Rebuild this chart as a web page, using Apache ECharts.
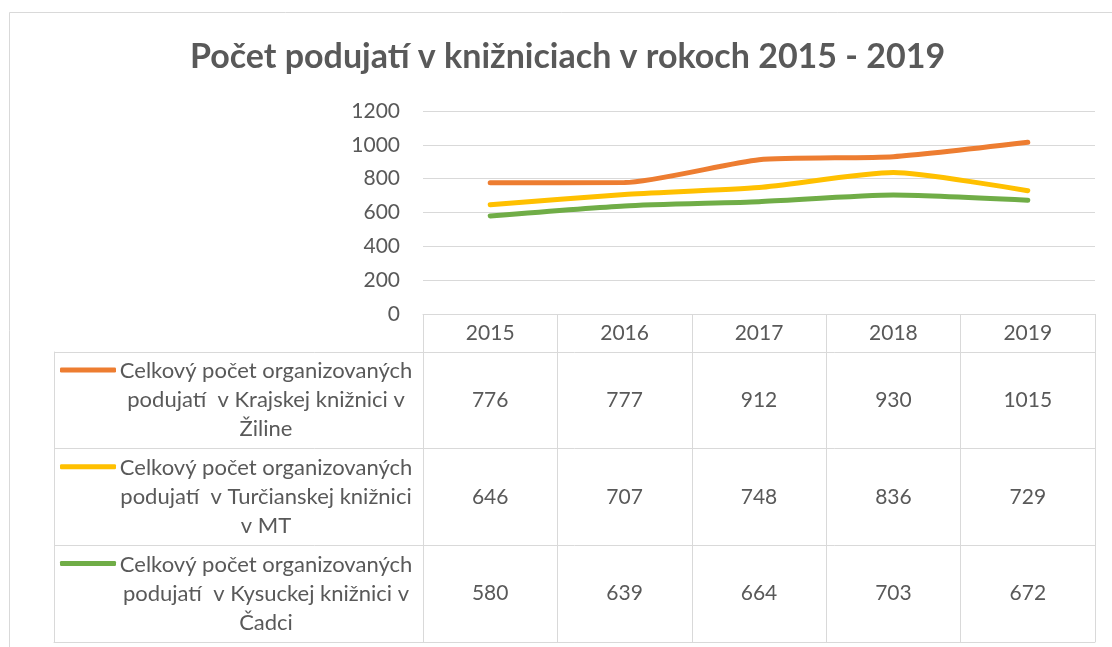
<!DOCTYPE html>
<html>
<head>
<meta charset="utf-8">
<script src="https://cdn.jsdelivr.net/npm/echarts@6/dist/echarts.min.js"></script>
<style>
  html, body { margin: 0; padding: 0; background: #fff; }
  #chart { width: 1112px; height: 647px; }
</style>
</head>
<body>
<div id="chart"></div>
<script>
  // data
  var years = ['2015', '2016', '2017', '2018', '2019'];
  var seriesNames = [
    'Celkový počet organizovaných podujatí  v Krajskej knižnici v Žiline',
    'Celkový počet organizovaných podujatí  v Turčianskej knižnici v MT',
    'Celkový počet organizovaných podujatí  v Kysuckej knižnici v Čadci'
  ];
  var rowLabels = [
    'Celkový počet organizovaných\npodujatí  v Krajskej knižnici v\nŽiline',
    'Celkový počet organizovaných\npodujatí  v Turčianskej knižnici\nv MT',
    'Celkový počet organizovaných\npodujatí  v Kysuckej knižnici v\nČadci'
  ];
  var zilina = [776, 777, 912, 930, 1015];
  var turiec = [646, 707, 748, 836, 729];
  var kysuce = [580, 639, 664, 703, 672];
  var yTicks = {min: 0, max: 1200, interval: 200};

  var colors = ['#ED7D31', '#FFC000', '#70AD47'];
  var gray = '#595959';
  var lineGray = '#d9d9d9';
  var font = 'Lato';

  var allValues = [zilina, turiec, kysuce];
  var cells = [];
  allValues.forEach(function (arr, r) {
    arr.forEach(function (v, i) {
      cells.push([years[i], rowLabels[r], v]);
    });
  });

  var myChart = echarts.init(document.getElementById('chart'));

  var lineSeries = allValues.map(function (arr, k) {
    return {
      name: seriesNames[k],
      type: 'line',
      xAxisIndex: 0,
      yAxisIndex: 0,
      data: arr,
      smooth: 0.2,
      symbol: 'none',
      lineStyle: {width: 5, color: colors[k], cap: 'round'},
      itemStyle: {color: colors[k]},
      z: 5 - k
    };
  });

  var option = {
    backgroundColor: '#fff',
    animation: false,
    title: {
      text: 'Počet podujatí v knižniciach v rokoch 2015 - 2019',
      left: 190,
      top: 40,
      padding: 0,
      textStyle: {fontFamily: font, fontSize: 34, fontWeight: 'bold', color: gray}
    },
    legend: {
      data: seriesNames,
      orient: 'vertical',
      left: 60,
      top: 367.5,
      padding: 0,
      itemWidth: 56,
      itemHeight: 5,
      itemGap: 91.7,
      icon: 'roundRect',
      selectedMode: false,
      formatter: function () { return ''; },
      textStyle: {fontSize: 1, lineHeight: 5}
    },
    graphic: [{
      type: 'rect',
      shape: {x: 9.5, y: 12.5, width: 1200, height: 1000},
      style: {fill: null, stroke: lineGray, lineWidth: 1},
      silent: true
    }],
    grid: [
      {left: 423, right: 17, top: 111, height: 203},
      {left: 54, right: 17, top: 352, height: 290},
      {left: 423, right: 17, top: 352, height: 290}
    ],
    xAxis: [
      {
        gridIndex: 0,
        type: 'category',
        data: years,
        boundaryGap: true,
        axisLine: {show: true, lineStyle: {color: lineGray, width: 1}},
        axisTick: {show: true, length: 38, lineStyle: {color: lineGray, width: 1}},
        axisLabel: {color: gray, fontFamily: font, fontSize: 21, margin: 9}
      },
      {
        gridIndex: 1,
        type: 'value',
        min: 0,
        max: 1,
        axisLine: {show: true, onZero: false, lineStyle: {color: lineGray}},
        axisTick: {show: false},
        axisLabel: {show: false},
        splitLine: {show: false}
      },
      {
        gridIndex: 2,
        type: 'category',
        data: years,
        boundaryGap: true,
        axisLine: {show: false},
        axisTick: {show: false},
        axisLabel: {show: false},
        splitLine: {show: true, lineStyle: {color: lineGray, width: 1}}
      }
    ],
    yAxis: [
      {
        gridIndex: 0,
        type: 'value',
        min: yTicks.min,
        max: yTicks.max,
        interval: yTicks.interval,
        axisLine: {show: false},
        axisTick: {show: false},
        axisLabel: {
          color: gray, fontFamily: font, fontSize: 21, margin: 23,
          formatter: function (v) { return String(v); }
        },
        splitLine: {lineStyle: {color: lineGray, width: 1}}
      },
      {
        gridIndex: 1,
        type: 'category',
        data: rowLabels,
        inverse: true,
        boundaryGap: true,
        axisLine: {show: true, lineStyle: {color: lineGray}},
        axisTick: {show: false},
        axisLabel: {
          inside: true,
          margin: 212,
          align: 'center',
          color: gray,
          fontFamily: font,
          fontSize: 22,
          lineHeight: 29
        },
        splitLine: {show: true, lineStyle: {color: lineGray, width: 1}}
      },
      {
        gridIndex: 2,
        type: 'category',
        data: rowLabels,
        inverse: true,
        axisLine: {show: true, lineStyle: {color: lineGray}},
        axisTick: {show: false},
        axisLabel: {show: false},
        splitLine: {show: false}
      }
    ],
    series: lineSeries.concat([{
      name: 'tabulka',
      type: 'scatter',
      xAxisIndex: 2,
      yAxisIndex: 2,
      data: cells,
      symbolSize: 1,
      silent: true,
      itemStyle: {color: 'rgba(0,0,0,0)', opacity: 1},
      label: {
        show: true,
        position: 'inside',
        formatter: function (p) { return p.value[2]; },
        color: gray,
        textBorderWidth: 0,
        fontFamily: font,
        fontSize: 21
      }
    }])
  };

  myChart.setOption(option);
</script>
</body>
</html>
